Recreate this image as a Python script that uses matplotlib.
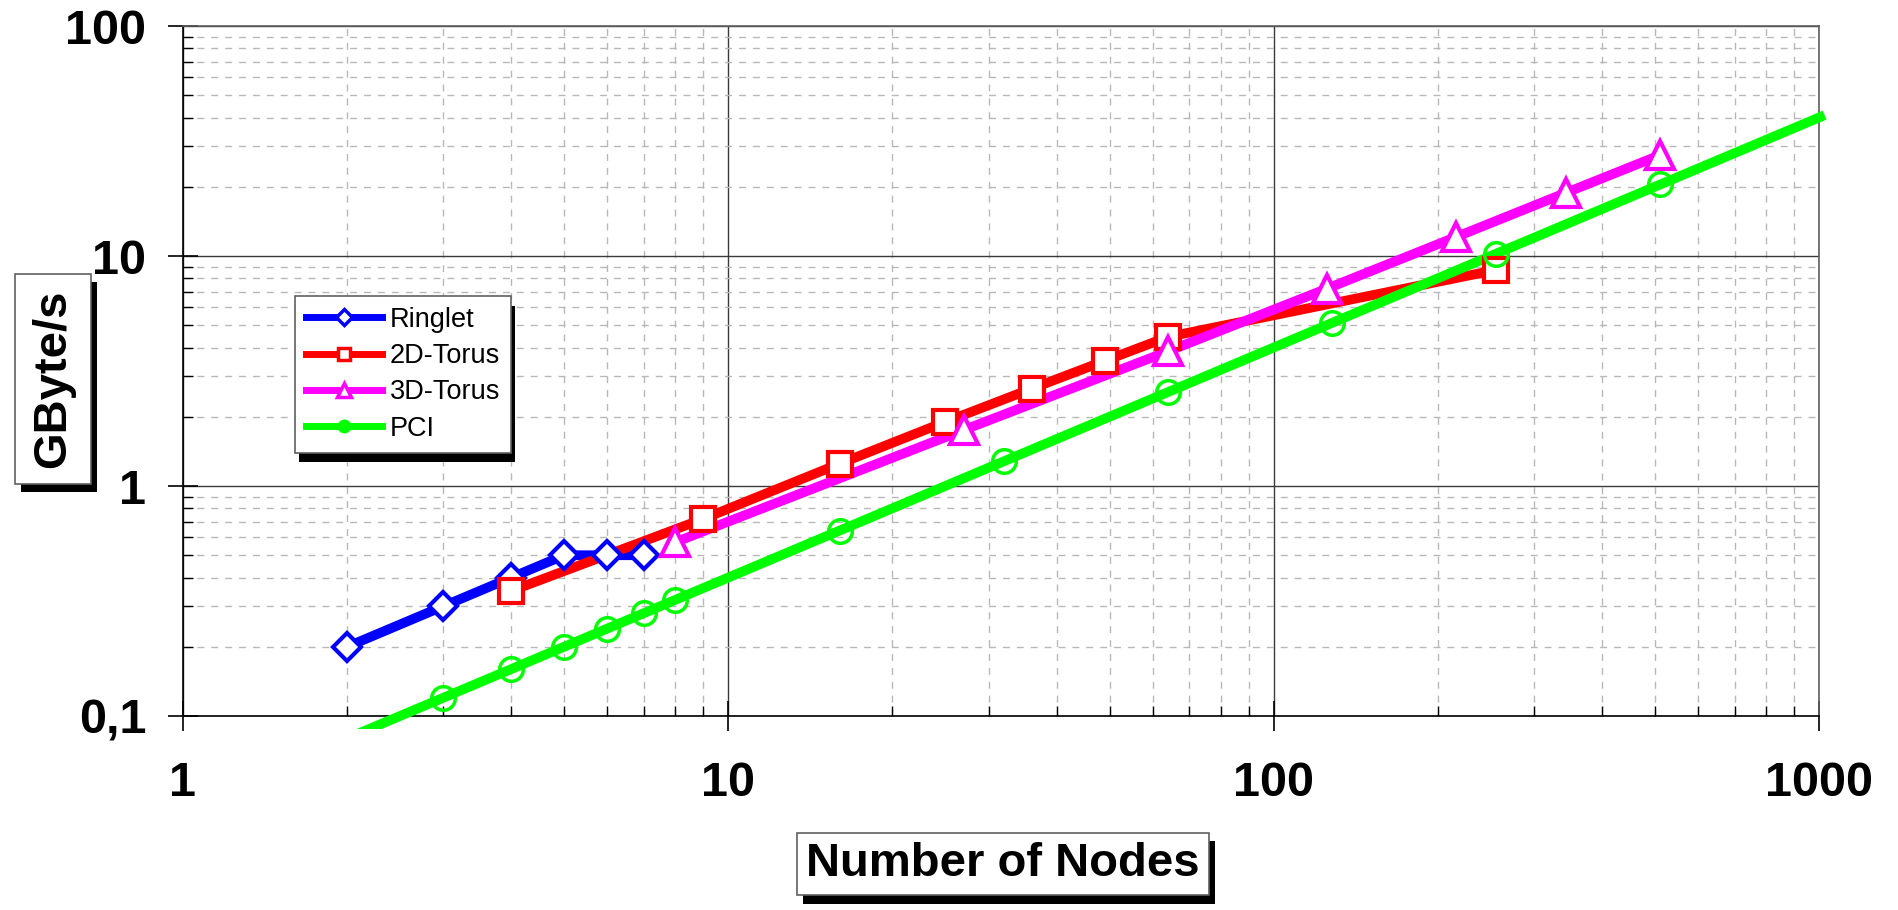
import numpy as np
import matplotlib
matplotlib.use("Agg")
import matplotlib.pyplot as plt
from matplotlib.lines import Line2D
from matplotlib.patches import Rectangle
from matplotlib.ticker import FixedLocator, FixedFormatter, LogLocator, NullFormatter
import matplotlib.patheffects as pe

plt.rcParams["font.family"] = ["Liberation Sans", "DejaVu Sans"]

# data
ringlet_x = [2, 3, 4, 5, 6, 7]
ringlet_y = [0.2, 0.3, 0.4, 0.5, 0.5, 0.5]

torus2d_x = [4, 9, 16, 25, 36, 49, 64, 256]
torus2d_y = [0.35, 0.72, 1.25, 1.9, 2.65, 3.5, 4.45, 8.7]

torus3d_x = [8, 27, 64, 125, 216, 343, 512]
torus3d_y = [0.57, 1.75, 3.85, 7.2, 12.1, 18.8, 27.5]

pci_x = [2, 3, 4, 5, 6, 7, 8, 16, 32, 64, 128, 256, 512, 1024]
pci_y = [0.08, 0.12, 0.16, 0.2, 0.24, 0.28, 0.32, 0.64, 1.28, 2.56, 5.12, 10.24, 20.48, 40.96]
pci_marked = list(range(1, 13))  # points that carry a marker

x_ticks = [1, 10, 100, 1000]
x_labels = ["1", "10", "100", "1000"]
y_ticks = [0.1, 1, 10, 100]
y_labels = ["0,1", "1", "10", "100"]

BLUE = "#0000ff"
RED = "#ff0000"
MAGENTA = "#ff00ff"
GREEN = "#00ff00"

W, H = 1898, 910
fig = plt.figure(figsize=(W / 100, H / 100), dpi=100)
ax = fig.add_axes([183 / W, 1 - 716 / H, (1819 - 183) / W, (716 - 26) / H])
ax.set_xscale("log")
ax.set_yscale("log")
ax.set_xlim(1, 1000)
ax.set_ylim(0.1, 100)

# ticks and grid
ax.xaxis.set_major_locator(FixedLocator(x_ticks))
ax.xaxis.set_major_formatter(FixedFormatter(x_labels))
ax.yaxis.set_major_locator(FixedLocator(y_ticks))
ax.yaxis.set_major_formatter(FixedFormatter(y_labels))
ax.xaxis.set_minor_locator(LogLocator(base=10, subs=np.arange(2, 10)))
ax.yaxis.set_minor_locator(LogLocator(base=10, subs=np.arange(2, 10)))
ax.xaxis.set_minor_formatter(NullFormatter())
ax.yaxis.set_minor_formatter(NullFormatter())
ax.grid(True, which="major", color="#3a3a3a", linewidth=1.0, zorder=0)
ax.grid(True, which="minor", color="#b8b8b8", linewidth=1.0,
        linestyle=(0, (5, 5)), zorder=0)
ax.set_axisbelow(True)

for s in ["left", "bottom"]:
    ax.spines[s].set_color("black")
    ax.spines[s].set_linewidth(1.2)
for s in ["top", "right"]:
    ax.spines[s].set_color("#606060")
    ax.spines[s].set_linewidth(1.2)

ax.tick_params(which="major", direction="inout", length=21, width=1.2, color="black",
               labelsize=35)
ax.tick_params(axis="x", which="major", pad=22)
ax.tick_params(axis="y", which="major", pad=16)
ax.tick_params(which="minor", direction="in", length=7, width=1.0, color="black")
for lab in ax.get_xticklabels() + ax.get_yticklabels():
    lab.set_fontweight("bold")

# lines first, markers on top
lw = 7
ax.plot(ringlet_x, ringlet_y, color=BLUE, lw=lw, zorder=3, solid_capstyle="butt")
ax.plot(torus2d_x, torus2d_y, color=RED, lw=lw, zorder=3, solid_capstyle="butt")
ax.plot(torus3d_x, torus3d_y, color=MAGENTA, lw=lw, zorder=3, solid_capstyle="butt")
pci_line, = ax.plot(pci_x, pci_y, color=GREEN, lw=lw, zorder=3, solid_capstyle="butt")
# Excel lets the line run a little past the plot area
clip = Rectangle((0, -0.019), 1.0067, 1.019, transform=ax.transAxes)
pci_line.set_clip_path(clip)

ax.plot(ringlet_x, ringlet_y, ls="none", marker="D", ms=14, mfc="white",
        mec=BLUE, mew=3, zorder=4)
ax.plot(torus2d_x, torus2d_y, ls="none", marker="s", ms=17, mfc="white",
        mec=RED, mew=3, zorder=4)
ax.plot(torus3d_x, torus3d_y, ls="none", marker="^", ms=20, mfc="white",
        mec=MAGENTA, mew=3, zorder=4)
ax.plot(np.array(pci_x)[pci_marked], np.array(pci_y)[pci_marked], ls="none",
        marker="o", ms=17, mfc="none", mec=GREEN, mew=2.5, zorder=4)

# legend
handles = [
    Line2D([], [], color=BLUE, lw=5, marker="D", ms=8, mfc="white", mec=BLUE, mew=2.5),
    Line2D([], [], color=RED, lw=5, marker="s", ms=9, mfc="white", mec=RED, mew=2.5),
    Line2D([], [], color=MAGENTA, lw=5, marker="^", ms=10, mfc="white", mec=MAGENTA, mew=2.5),
    Line2D([], [], color=GREEN, lw=5, marker="o", ms=9, mfc=GREEN, mec=GREEN),
]
leg = fig.legend(handles, ["Ringlet", "2D-Torus", "3D-Torus", "PCI"],
                 loc="upper left", bbox_to_anchor=(295 / W, 1 - 296 / H),
                 fontsize=19.5, frameon=True, fancybox=False, borderaxespad=0,
                 handlelength=2.8, handletextpad=0.3, labelspacing=0.38,
                 borderpad=0.4)
frame = leg.get_frame()
frame.set_edgecolor("#606060")
frame.set_linewidth(1.2)
frame.set_alpha(1)
frame.set_path_effects([pe.SimplePatchShadow(offset=(3, -7), shadow_rgbFace="black", alpha=1.0),
                        pe.Normal()])

# boxed axis titles with drop shadow
shadow = [pe.SimplePatchShadow(offset=(4.3, -5.8), shadow_rgbFace="black", alpha=1.0),
          pe.Normal()]
xt = fig.text(1003 / W, 1 - 864 / H, "Number of Nodes", ha="center", va="center",
              fontsize=34, fontweight="bold",
              bbox=dict(boxstyle="square,pad=0.2", facecolor="white",
                        edgecolor="#606060", linewidth=1.2))
xt.get_bbox_patch().set_path_effects(shadow)
yt = fig.text(53 / W, 1 - 379 / H, "GByte/s", ha="center", va="center", rotation=90,
              fontsize=34, fontweight="bold",
              bbox=dict(boxstyle="square,pad=0.33", facecolor="white",
                        edgecolor="#606060", linewidth=1.2))
yt.get_bbox_patch().set_path_effects(shadow)

fig.savefig("out.png", dpi=100)
